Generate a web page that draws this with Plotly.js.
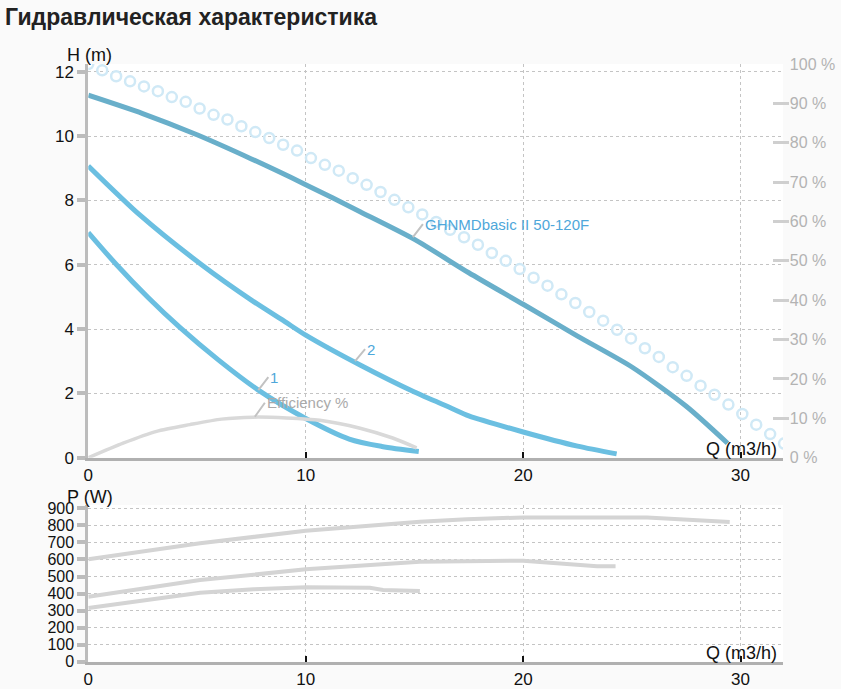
<!DOCTYPE html>
<html>
<head>
<meta charset="utf-8">
<script src="https://cdn.plot.ly/plotly-3.0.1.min.js"></script>
<style>
    body { margin: 0; background: #fafafa; }
    #plot { width: 841px; height: 689px; }
</style>
</head>
<body>
<div id="plot"></div>
<script>
// head curves, H (m) against Q (m3/h)
const mainQ = [0, 2.5, 5, 7.5, 10, 12.5, 15, 17.5, 20, 22.5, 25, 27.5, 29.4];
const mainH = [11.27, 10.7, 10.04, 9.29, 8.49, 7.65, 6.79, 5.75, 4.77, 3.78, 2.82, 1.6, 0.45];

const curve2Q = [0, 2.38, 5.21, 7.5, 9.04, 10, 12.5, 15, 16.7, 17.5, 20, 22.5, 24.3];
const curve2H = [9.07, 7.54, 6.0, 4.9, 4.23, 3.81, 2.88, 2.04, 1.54, 1.3, 0.8, 0.36, 0.12];

const curve1Q = [0, 1.3, 2.75, 4.21, 5.98, 7.82, 10, 12, 13.5, 15.2];
const curve1H = [7.0, 6.0, 4.98, 4.05, 3.04, 2.1, 1.22, 0.58, 0.35, 0.19];

// efficiency, %
const effQ = [0, 1.6, 3.14, 4.67, 6.13, 7.59, 9.12, 10.65, 12.5, 14.0, 15.1];
const effPct = [0, 3.7, 6.7, 8.4, 9.8, 10.3, 10.1, 9.5, 7.5, 5.0, 2.5];

// ring markers, %
const ringQ = [0, 0.64, 1.28, 1.92, 2.56, 3.2, 3.84, 4.48, 5.12, 5.76, 6.4, 7.04, 7.68,
    8.32, 8.96, 9.6, 10.24, 10.88, 11.52, 12.16, 12.8, 13.44, 14.08, 14.72, 15.36, 16,
    16.64, 17.28, 17.92, 18.56, 19.2, 19.84, 20.48, 21.12, 21.76, 22.4, 23.04, 23.68,
    24.32, 24.96, 25.6, 26.24, 26.88, 27.52, 28.16, 28.8, 29.44, 30.08, 30.72, 31.36, 32.0];
const ringPct = [100, 98.4, 96.9, 95.6, 94.3, 93.1, 91.6, 90.4, 88.7, 87.1, 85.9, 84.2, 82.7,
    81.2, 79.5, 78.0, 76.1, 74.4, 72.9, 71.0, 69.3, 67.5, 65.5, 63.6, 61.8, 59.9,
    57.9, 56.0, 54.1, 52.0, 50.0, 47.9, 45.7, 43.7, 41.5, 39.3, 37.0, 34.8,
    32.5, 30.3, 27.8, 25.6, 23.0, 20.8, 18.3, 16.0, 13.5, 11.1, 8.4, 6.0, 3.6];

// power curves, P (W)
const powerAQ = [0, 5.14, 10, 15.25, 17.4, 19.24, 20, 25.7, 27.5, 29.5];
const powerA = [601, 695, 769, 822, 836, 847, 847, 847, 832, 820];

const powerBQ = [0, 5.14, 10, 15.25, 20, 20.6, 22.3, 23.4, 24.25];
const powerB = [381, 479, 542, 587, 593, 587, 573, 561, 561];

const powerCQ = [0, 5.14, 7.6, 10, 12.95, 13.56, 15.25];
const powerC = [315, 405, 425, 437, 434, 421, 415];

const xTicks = [0, 10, 20, 30];

const fontFamily = "Liberation Sans, Arial, sans-serif";
const gridColor = "#c4c4c4";
const axisGray = "#bcbcbc";
const curveBlue = "#6bbfe1";
const mainBlue = "#69afca";
const labelBlue = "#4ea7da";

// shared x axis settings for both panels
function qAxis(anchor) {
    return {
        domain: [0.105, 0.931],
        range: [0, 31.95],
        anchor: anchor,
        tickvals: xTicks,
        ticks: "inside",
        ticklen: 6,
        tickwidth: 2,
        tickcolor: "#111",
        tickfont: { size: 17, color: "#111" },
        showline: true,
        linecolor: "#b0b0b0",
        linewidth: 3,
        showgrid: true,
        gridcolor: gridColor,
        griddash: "dot",
        gridwidth: 1,
        zeroline: false,
        fixedrange: true
    };
}

// left value axis, with a twin carrying the inside half of the tick marks
function valueAxis(domain, range, dtick, fontSize) {
    return {
        domain: domain,
        range: range,
        dtick: dtick,
        ticks: "outside",
        ticklen: 8,
        tickwidth: 4,
        tickcolor: axisGray,
        tickfont: { size: fontSize, color: "#111" },
        showline: true,
        linecolor: axisGray,
        linewidth: 3,
        showgrid: true,
        gridcolor: gridColor,
        griddash: "dot",
        gridwidth: 1,
        zeroline: false,
        fixedrange: true
    };
}

function tickTwin(over, anchor, range, dtick) {
    return {
        overlaying: over,
        anchor: anchor,
        side: "left",
        range: range,
        dtick: dtick,
        ticks: "inside",
        ticklen: 8,
        tickwidth: 4,
        tickcolor: axisGray,
        showticklabels: false,
        showgrid: false,
        showline: false,
        zeroline: false,
        fixedrange: true
    };
}

const headRange = [0, 12.24];
const powerRange = [0, 919.6];

const traces = [
    {
        x: ringQ, y: ringPct, yaxis: "y2", mode: "markers",
        marker: { symbol: "circle-open", size: 10, color: "#d0e9f6", line: { width: 2.5, color: "#d0e9f6" } },
        hoverinfo: "skip"
    },
    {
        x: effQ, y: effPct, yaxis: "y2", mode: "lines",
        line: { color: "#d9d9d9", width: 3.5, shape: "spline", smoothing: 0.7 }
    },
    {
        x: curve1Q, y: curve1H, mode: "lines",
        line: { color: curveBlue, width: 5, shape: "spline", smoothing: 0.8 }
    },
    {
        x: curve2Q, y: curve2H, mode: "lines",
        line: { color: curveBlue, width: 5, shape: "spline", smoothing: 0.7 }
    },
    {
        x: mainQ, y: mainH, mode: "lines",
        line: { color: mainBlue, width: 5, shape: "spline", smoothing: 0.7 }
    },
    {
        x: powerAQ, y: powerA, xaxis: "x2", yaxis: "y3", mode: "lines",
        line: { color: "#d4d4d4", width: 4 }
    },
    {
        x: powerBQ, y: powerB, xaxis: "x2", yaxis: "y3", mode: "lines",
        line: { color: "#d4d4d4", width: 4 }
    },
    {
        x: powerCQ, y: powerC, xaxis: "x2", yaxis: "y3", mode: "lines",
        line: { color: "#d4d4d4", width: 4 }
    }
];

// helper for a paper-positioned text (pixel coordinates of the 841x689 picture)
function paperText(text, px, py, size, color) {
    return {
        text: text, xref: "paper", yref: "paper",
        x: px / 841, y: 1 - py / 689,
        xanchor: "left", yanchor: "middle",
        showarrow: false,
        font: { size: size, color: color }
    };
}

function curveLabel(text, x, y, yref, color, ax, ay) {
    return {
        text: text, x: x, y: y, xref: "x", yref: yref,
        showarrow: true, arrowhead: 0, arrowwidth: 2, arrowcolor: "#c2c2c2",
        ax: ax, ay: ay, xanchor: "left", yanchor: "middle",
        font: { size: 15, color: color }
    };
}

const layout = {
    width: 841,
    height: 689,
    margin: { l: 0, r: 0, t: 0, b: 0 },
    paper_bgcolor: "#fafafa",
    plot_bgcolor: "#ffffff",
    showlegend: false,
    font: { family: fontFamily },
    xaxis: qAxis("y"),
    yaxis: valueAxis([0.3357, 0.9071], headRange, 2, 17),
    yaxis4: tickTwin("y", "x", headRange, 2),
    yaxis2: {
        overlaying: "y",
        side: "right",
        anchor: "free",
        position: 0.938,
        range: [0, 100],
        dtick: 10,
        ticksuffix: " %",
        ticks: "inside",
        ticklen: 16,
        tickwidth: 3,
        tickcolor: "#cfcfcf",
        tickfont: { size: 16, color: "#b3b3b3" },
        showgrid: false,
        showline: false,
        zeroline: false,
        fixedrange: true
    },
    xaxis2: qAxis("y3"),
    yaxis3: valueAxis([0.0396, 0.267], powerRange, 100, 16),
    yaxis5: tickTwin("y3", "x2", powerRange, 100),
    annotations: [
        paperText("<b>Гидравлическая характеристика</b>", 3, 17, 23, "#222"),
        paperText("H (m)", 65, 55, 18, "#111"),
        paperText("Q (m3/h)", 704, 449, 18, "#111"),
        paperText("P (W)", 65, 497, 18, "#111"),
        paperText("Q (m3/h)", 704, 653, 18, "#111"),
        curveLabel("GHNMDbasic II 50-120F", 14.93, 6.86, "y", labelBlue, 10, -13),
        curveLabel("2", 12.27, 3.0, "y", labelBlue, 10, -12),
        curveLabel("1", 7.82, 2.1, "y", labelBlue, 10, -13),
        curveLabel("Efficiency %", 7.66, 10.4, "y2", "#aaaaaa", 10, -14)
    ]
};

const config = { displayModeBar: false, staticPlot: true };

Plotly.newPlot("plot", traces, layout, config);
</script>
</body>
</html>
